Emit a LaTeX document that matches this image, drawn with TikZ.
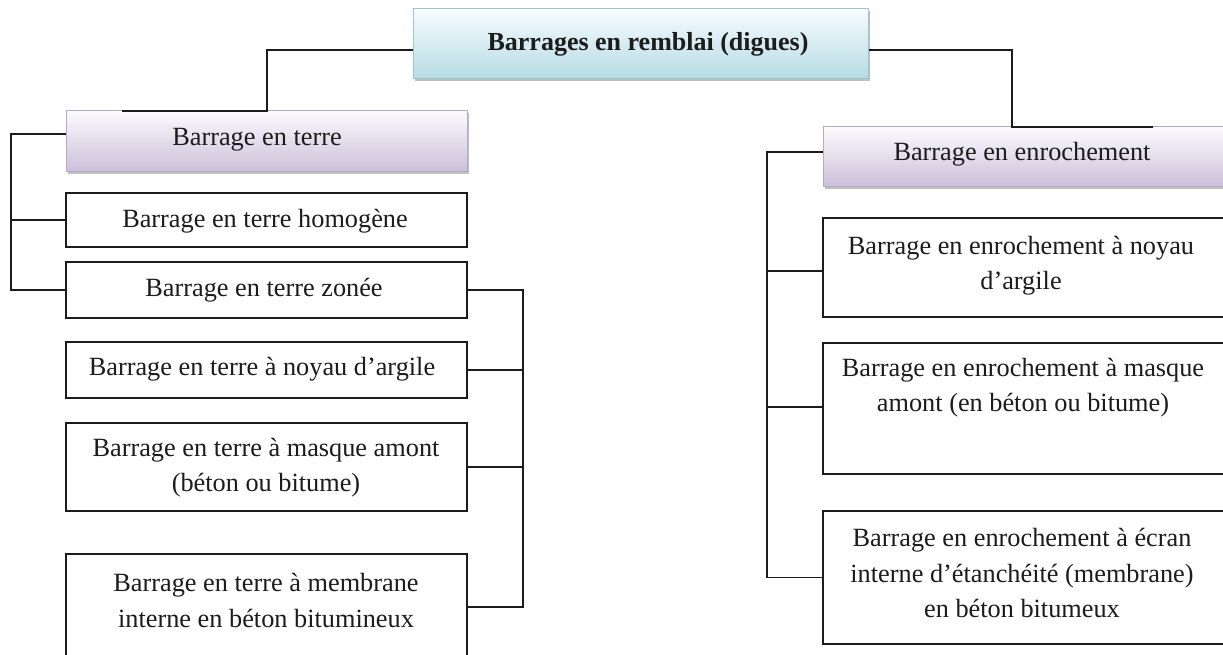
\documentclass[tikz,border=0pt]{standalone}
\usepackage{fontspec}
\setmainfont{Liberation Serif}
\usetikzlibrary{shadows}
\definecolor{bluetop}{HTML}{F8FCFD}
\definecolor{bluebot}{HTML}{B5DBE5}
\definecolor{blueedge}{HTML}{98C8D4}
\definecolor{lavtop}{HTML}{FCFBFD}
\definecolor{lavbot}{HTML}{CBBFD9}
\definecolor{lavedge}{HTML}{B6A8C9}
\definecolor{ink}{HTML}{1C1C1C}
\begin{document}
\begin{tikzpicture}[x=1pt,y=-1pt,
  wire/.style={draw=ink, line width=1.4pt},
  plainbox/.style={draw=ink, line width=1.3pt, fill=white, inner sep=0pt},
  leftbox/.style={plainbox, minimum width=401pt},
  rightbox/.style={plainbox, minimum width=402pt},
  headbox/.style={draw=lavedge, line width=1pt, top color=lavtop, bottom color=lavbot, inner sep=0pt,
    drop shadow={shadow xshift=2pt, shadow yshift=-2.5pt, fill=black!45, opacity=0.55}},
  topbox/.style={draw=blueedge, line width=1pt, top color=bluetop, bottom color=bluebot, inner sep=0pt,
    drop shadow={shadow xshift=2pt, shadow yshift=-2.5pt, fill=black!45, opacity=0.55}},
  txt/.style={text=ink, align=center, inner sep=0pt, font=\fontsize{26.3}{35.5}\selectfont},
  titletxt/.style={text=ink, inner sep=0pt, font=\fontsize{26}{34}\selectfont\bfseries}
]
\useasboundingbox (0,0) rectangle (1223,655);
\clip (0,0) rectangle (1223,655);

% boxes
\node[topbox, minimum width=455pt, minimum height=70pt] (top) at (640.5,44) {};
\node[headbox, minimum width=401pt, minimum height=61pt] (hdrL) at (266.5,141.5) {};
\node[headbox, minimum width=402pt, minimum height=60pt] (hdrR) at (1024,157) {};

\node[leftbox, minimum height=54pt] (hom) at (266.5,220) {};
\node[leftbox, minimum height=56pt] (zon) at (266.5,290) {};
\node[leftbox, minimum height=56pt] (noy) at (266.5,370) {};
\node[leftbox, minimum height=88pt] (mas) at (266.5,467) {};
\node[leftbox, minimum height=106pt] (mem) at (266.5,607) {};

\node[rightbox, minimum height=99pt] (rb1) at (1024,267.5) {};
\node[rightbox, minimum height=131pt] (rb2) at (1024,408.5) {};
\node[rightbox, minimum height=133pt] (rb3) at (1024,577.5) {};

% texts
\node[titletxt] (tTop) at (648,44) {Barrages en remblai (digues)};
\node[txt] (tHdrL) at (257,140) {Barrage en terre};
\node[txt] (tHdrR) at (1022,154) {Barrage en enrochement};
\node[txt] (tHom) at (265,221) {Barrage en terre homogène};
\node[txt] (tZon) at (264,290) {Barrage en terre zonée};
\node[txt] (tNoy) at (262,369) {Barrage en terre à noyau d’argile};
\node[txt] (tMas) at (266,467.5) {Barrage en terre à masque amont\\(béton ou bitume)};
\node[txt] (tMem) at (266,600.5) {Barrage en terre à membrane\\interne en béton bitumineux};
\node[txt] (tR1) at (1021,265.5) {Barrage en enrochement à noyau\\d’argile};
\node[txt] (tR2) at (1023,387.5) {Barrage en enrochement à masque\\amont (en béton ou bitume)};
\node[txt] (tR3) at (1022,573) {Barrage en enrochement à écran\\interne d’étanchéité (membrane)\\en béton bitumeux};

% connector coordinates
\coordinate (lKnee) at (267,111);
\coordinate (lEnd) at (122,111);
\coordinate (rKnee) at (1012,127);
\coordinate (rEnd) at (1153,127);
\coordinate (busL) at (11,0);
\coordinate (busM) at (523,0);
\coordinate (busR) at (767,0);

% top connectors
\draw[wire] ([yshift=-6pt]top.west) -| (lKnee) -- (lEnd);
\draw[wire] ([yshift=-6pt]top.east) -| (rKnee) -- (rEnd);

% left group
\draw[wire] ([yshift=7.5pt]hdrL.west) -| (busL |- zon.west) -- (zon.west);
\draw[wire] (hom.west) -- (hom.west -| busL);

% zoned sub-group
\draw[wire] (zon.east) -| (busM |- mem.east) -- (mem.east);
\draw[wire] (noy.east) -- (noy.east -| busM);
\draw[wire] (mas.east) -- (mas.east -| busM);

% right group
\draw[wire] ([yshift=5pt]hdrR.west) -| (busR |- rb3.west) -- (rb3.west);
\draw[wire] ([yshift=-3.5pt]rb1.west) -- ([yshift=-3.5pt]rb1.west -| busR);
\draw[wire] ([yshift=1.5pt]rb2.west) -- ([yshift=1.5pt]rb2.west -| busR);
\end{tikzpicture}
\end{document}
